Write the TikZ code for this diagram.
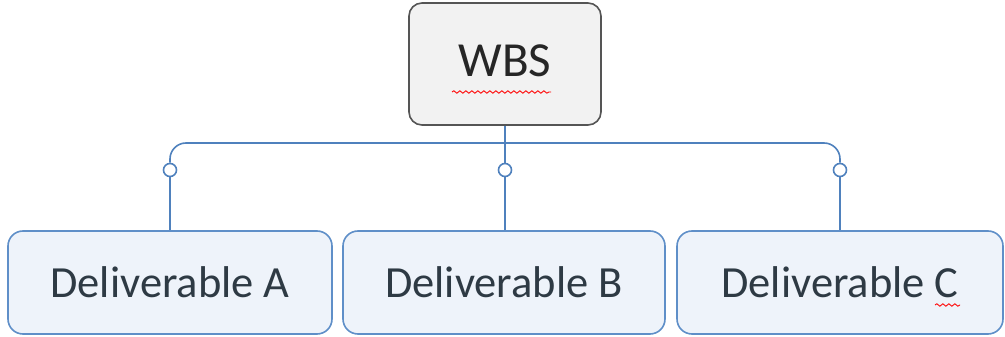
\documentclass[tikz,border=0pt]{standalone}
\usepackage{fontspec}
\setmainfont{Carlito}
\usetikzlibrary{decorations.pathmorphing}
\definecolor{lineblue}{HTML}{4F81BD}
\definecolor{boxblue}{HTML}{EEF3FA}
\definecolor{edgeblue}{HTML}{5F8FC8}
\definecolor{rootfill}{HTML}{F2F2F2}
\definecolor{rootedge}{HTML}{555555}
\definecolor{inkgray}{HTML}{2E3A44}
\tikzset{
  rootbox/.style={draw=rootedge, line width=1.6pt, fill=rootfill, rounded corners=13pt,
    minimum width=192pt, minimum height=122pt, inner sep=0pt,
    font=\fontsize{49}{53}\selectfont, text=black!85},
  delbox/.style={draw=edgeblue, line width=1.6pt, fill=boxblue, rounded corners=15pt,
    minimum height=103pt, inner sep=0pt,
    font=\fontsize{44.5}{48}\selectfont, text=inkgray},
  link/.style={draw=lineblue, line width=1.6pt},
  joint/.style={circle, draw=lineblue, line width=1.6pt, fill=white, minimum size=13pt, inner sep=0pt},
  squiggle/.style={draw=red, line width=0.9pt, decorate,
    decoration={snake, amplitude=1.2pt, segment length=6pt}}
}
\begin{document}
\begin{tikzpicture}[x=1pt,y=1pt]
\useasboundingbox (0,0) rectangle (1005,337);
% top-level node
\node[rootbox] (wbs) at (505,273) {\raisebox{6pt}{WBS}};
% deliverables
\node[delbox, minimum width=324pt] (da) at (170,54.5) {Deliverable A};
\node[delbox, minimum width=322pt] (db) at (504,54.5) {Deliverable B};
\node[delbox, minimum width=326pt] (dc) at (840,54.5) {Deliverable C};
% junction points on the branches
\coordinate (bus) at (505,194);
\node[joint] (ja) at (170,167) {};
\node[joint] (jb) at (505,167) {};
\node[joint] (jc) at (840,167) {};
% bus with rounded ends, and the drops to each box
\draw[link, rounded corners=16pt] (ja.north) -- (ja |- bus) -- (jc |- bus) -- (jc.north);
\draw[link] (wbs.south) -- (jb.north);
\draw[link] (ja.south) -- (ja |- da.north);
\draw[link] (jb.south) -- (jb |- db.north);
\draw[link] (jc.south) -- (jc |- dc.north);
% spell-check marks under the text
\coordinate (s1) at (452,245);
\coordinate (s2) at (551,245);
\coordinate (s3) at (935,32);
\coordinate (s4) at (960,32);
\draw[squiggle] (s1) -- (s2);
\draw[squiggle] (s3) -- (s4);
\end{tikzpicture}
\end{document}
